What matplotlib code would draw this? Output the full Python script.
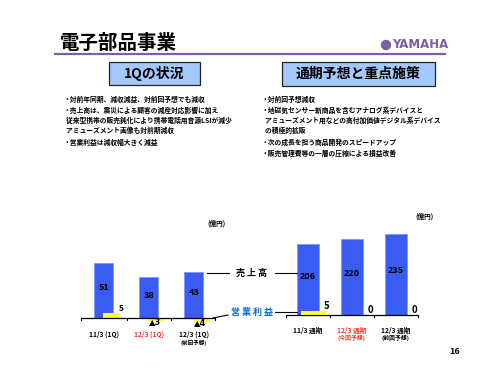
import matplotlib
matplotlib.use("Agg")
import matplotlib.pyplot as plt
from matplotlib.patches import Rectangle, Ellipse
from matplotlib.lines import Line2D

plt.rcParams['font.family'] = ['Noto Sans CJK JP', 'DejaVu Sans']
plt.rcParams['font.weight'] = 'bold'

# ---------------- data ----------------
q_categories = ["11/3 (1Q)", "12/3 (1Q)", "12/3 (1Q)"]
q_sub = ["", "", "(前回予想)"]
q_colors = ["black", "#ff3333", "black"]
q_sales = [51, 38, 43]
q_op = [5, -3, -4]

y_categories = ["11/3 通期", "12/3 通期", "12/3 通期"]
y_sub = ["", "(今回予想)", "(前回予想)"]
y_colors = ["black", "#ff3333", "black"]
y_sales = [206, 220, 235]
y_op = [5, 0, 0]

left_lines = [
    "・対前年同期、減収減益、対前回予想でも減収",
    "・売上高は、震災による顧客の減産対応影響に加え",
    "  従来型携帯の販売鈍化により携帯電話用音源LSIが減少",
    "  アミューズメント画像も対前期減収",
    "・営業利益は減収幅大きく減益",
]
right_lines = [
    "・対前回予想減収",
    "・地磁気センサー新商品を含むアナログ系デバイスと",
    "  アミューズメント用などの高付加価値デジタル系デバイス",
    "  の積極的拡販",
    "・次の成長を担う商品開発のスピードアップ",
    "・販売管理費等の一層の圧縮による損益改善",
]

W, H = 500, 375
def fx(x): return x / W
def fy(y): return 1 - y / H

fig = plt.figure(figsize=(5, 3.75), dpi=100)
fig.patch.set_facecolor("white")

purple = "#7b5ea7"
blue = "#3a5cf2"
blue_edge = "#7f98ff"
yellow = "#ffff33"

# title
fig.text(fx(60), fy(43), "電子部品事業", fontsize=14, fontweight='bold', va='center', ha='left')
fig.add_artist(Line2D([fx(55), fx(445)], [fy(54), fy(54)], color=purple, lw=1.6))
fig.add_artist(Ellipse((fx(386), fy(45)), 9 / W, 9 / H, transform=fig.transFigure, color=purple))
fig.text(fx(392), fy(45), "YAMAHA", fontsize=8.5, fontweight='bold', color=purple,
         va='center', ha='left', family=['DejaVu Sans'])

# header boxes
for (x0, x1, y0, y1, txt) in [(109, 200, 62, 85, "1Qの状況"),
                              (282, 435, 62, 86, "通期予想と重点施策")]:
    fig.add_artist(Rectangle((fx(x0), fy(y1)), fx(x1) - fx(x0), fy(y0) - fy(y1),
                             transform=fig.transFigure, facecolor="#a4c8fa",
                             edgecolor="#222222", lw=0.9))
    fig.text((fx(x0) + fx(x1)) / 2, (fy(y0) + fy(y1)) / 2, txt, fontsize=10,
             fontweight='bold', ha='center', va='center')

# bullet texts
for i, t in enumerate(left_lines):
    yy = [99, 110, 120, 130, 142][i]
    fig.text(fx(63), fy(yy), t, fontsize=4.9, fontweight='bold', va='center', ha='left')
for i, t in enumerate(right_lines):
    yy = [99, 110, 120, 130, 142, 153][i]
    fig.text(fx(262), fy(yy), t, fontsize=4.9, fontweight='bold', va='center', ha='left')

# ---------------- left chart ----------------
axL = fig.add_axes([fx(81), fy(335), (215 - 81) / W, (335 - 250) / H])
xs = list(range(len(q_sales)))
axL.bar(xs, q_sales, width=0.42, color=blue, edgecolor=blue_edge, lw=0.6, zorder=2)
axL.bar([x + 0.16 for x in xs], q_op, width=0.38, color=yellow, edgecolor='none', zorder=3)
axL.set_xlim(-0.51, 2.47)
axL.set_ylim(-15.9, 63.5)
axL.axhline(0, color='black', lw=0.9, zorder=4)
for s in axL.spines.values():
    s.set_visible(False)
axL.set_yticks([])
axL.set_xticks([])
for b in [-0.51, 0.51, 1.49, 2.47]:
    axL.plot([b, b], [0, -2.2], color='black', lw=0.8, clip_on=False, zorder=4)
for i, v in enumerate(q_sales):
    axL.text(i, v * 0.55, str(v), ha='center', va='center', fontsize=6.5, fontweight='bold')
for i, v in enumerate(q_op):
    if v >= 0:
        axL.text(i + 0.33, v, str(v), ha='left', va='bottom', fontsize=6, fontweight='bold')
    else:
        axL.text(i + 0.14, v, "▲" + str(-v), ha='center', va='center', fontsize=6,
                 fontweight='bold', family=['DejaVu Sans'], zorder=5)
for i in xs:
    axL.annotate(q_categories[i], xy=(i, 0), xytext=(0, -16), textcoords='offset pixels',
                 ha='center', va='center', fontsize=4.8, fontweight='bold', color=q_colors[i],
                 annotation_clip=False)
    if q_sub[i]:
        axL.annotate(q_sub[i], xy=(i, 0), xytext=(0, -25), textcoords='offset pixels',
                     ha='center', va='center', fontsize=4.0, fontweight='bold', color=q_colors[i],
                     annotation_clip=False)

# ---------------- right chart ----------------
axR = fig.add_axes([fx(286), fy(335), (418 - 286) / W, (335 - 225) / H])
axR2 = axR.twinx()
axR.bar(xs, y_sales, width=0.5, color=blue, edgecolor=blue_edge, lw=0.6, zorder=2)
axR.set_xlim(-0.5, 2.5)
lo, hi = -58.1, 261.6
axR.set_ylim(lo, hi)
k = 0.344 / 0.8
axR2.set_ylim(lo * k, hi * k)
axR2.bar([x + 0.14 for x in xs], y_op, width=0.59, color=yellow, edgecolor='none', zorder=3)
axR.axhline(0, color='black', lw=0.9, zorder=4)
for a in (axR, axR2):
    for s in a.spines.values():
        s.set_visible(False)
    a.set_yticks([])
    a.set_xticks([])
for b in [-0.5, 0.5, 1.5, 2.5]:
    axR.plot([b, b], [0, -7], color='black', lw=0.8, clip_on=False, zorder=4)
for i, v in enumerate(y_sales):
    axR.text(i, v * 0.55, str(v), ha='center', va='center', fontsize=6.5, fontweight='bold')
for i, v in enumerate(y_op):
    axR2.text(i + 0.35, v, str(v), ha='left', va='bottom', fontsize=7, fontweight='bold')
for i in xs:
    axR.annotate(y_categories[i], xy=(i, 0), xytext=(0, -15), textcoords='offset pixels',
                 ha='center', va='center', fontsize=4.8, fontweight='bold', color=y_colors[i],
                 annotation_clip=False)
    if y_sub[i]:
        axR.annotate(y_sub[i], xy=(i, 0), xytext=(0, -23), textcoords='offset pixels',
                     ha='center', va='center', fontsize=4.2, fontweight='bold', color=y_colors[i],
                     annotation_clip=False)

# units
fig.text(fx(217), fy(223), "(億円)", fontsize=4.8, fontweight='bold', ha='center', va='center')
fig.text(fx(425), fy(216), "(億円)", fontsize=4.8, fontweight='bold', ha='center', va='center')

# middle labels
fig.text(fx(251), fy(273), "売 上 高", fontsize=6.5, fontweight='bold', ha='center', va='center')
fig.add_artist(Line2D([fx(207), fx(229)], [fy(273), fy(273)], color='black', lw=0.8))
fig.add_artist(Line2D([fx(275), fx(297)], [fy(273), fy(273)], color='black', lw=0.8))
fig.text(fx(252), fy(312), "営 業 利 益", fontsize=6.5, fontweight='bold', ha='center',
         va='center', color="#0a6ad0")
fig.add_artist(Line2D([fx(275), fx(297)], [fy(312), fy(312)], color='black', lw=0.8))
fig.add_artist(Line2D([fx(213), fx(228)], [fy(318), fy(315)], color='black', lw=0.8))

fig.text(fx(455), fy(352), "16", fontsize=6.5, fontweight='bold', ha='center', va='center')

fig.savefig("out.png", dpi=100)
